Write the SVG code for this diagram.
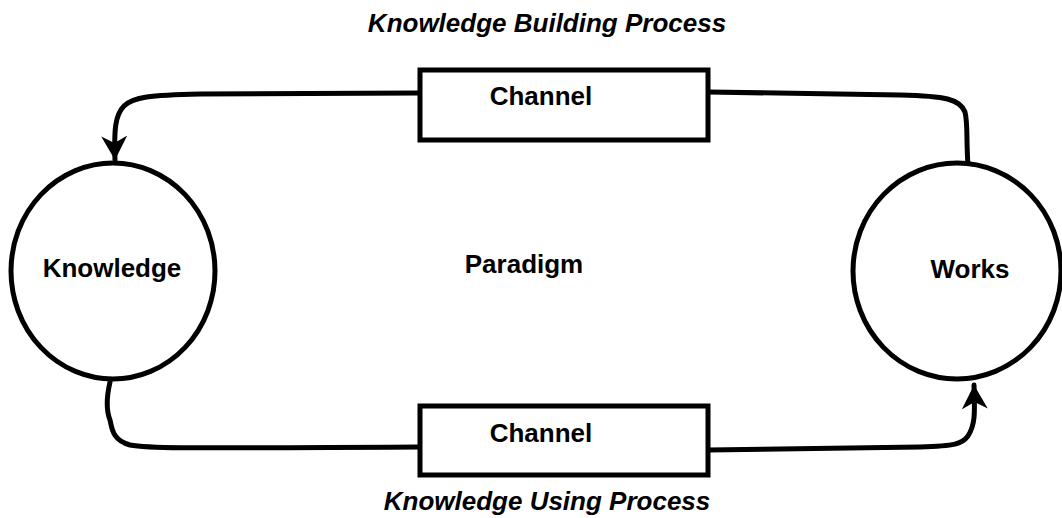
<svg xmlns="http://www.w3.org/2000/svg" width="1062" height="518" viewBox="0 0 1062 518">
<style>
text{font-family:"Liberation Sans",Arial,sans-serif;font-weight:bold;font-size:26px;fill:#000;text-anchor:middle}
.it{font-style:italic}
.shape{fill:#fff;stroke:#000;stroke-width:5}
.conn{fill:none;stroke:#000;stroke-width:5;stroke-linecap:round;stroke-linejoin:round}
</style>
<defs>
<marker id="arr" markerWidth="30" markerHeight="30" refX="24" refY="13" orient="auto" markerUnits="userSpaceOnUse" viewBox="0 0 30 26">
<path d="M0,0 L24,13 L0,26 L7,13 Z" fill="#000"/>
</marker>
</defs>
<rect width="1062" height="518" fill="#fff"/>
<text class="it" x="547" y="32">Knowledge Building Process</text>
<text class="it" x="547" y="510">Knowledge Using Process</text>
<g id="connectors">
<path class="conn" d="M418,93 L200,94 C150,95 133,97 124,106 C115,115 114,130 115,160" marker-end="url(#arr)"/>
<path class="conn" d="M708,92 L900,95 C945,96 960,99 965,112 C968,125 966,135 968,166"/>
<path class="conn" d="M110,382 C107,395 106,410 110,420 C112,428 112,440 130,445 C150,449 200,448 418,447"/>
<path class="conn" d="M708,450 L920,447 C955,446 962,444 968,436 C975,425 975,415 974,385" marker-end="url(#arr)"/>
</g>
<g id="knowledge">
<ellipse class="shape" cx="113" cy="271" rx="102" ry="108"/>
<text x="112" y="277">Knowledge</text>
</g>
<g id="works">
<ellipse class="shape" cx="957" cy="271" rx="104" ry="108"/>
<text x="970" y="278">Works</text>
</g>
<g id="channel-top">
<rect class="shape" x="420" y="70" width="288" height="70"/>
<text x="541" y="105">Channel</text>
</g>
<g id="channel-bottom">
<rect class="shape" x="420" y="406" width="288" height="69"/>
<text x="541" y="442">Channel</text>
</g>
<g id="paradigm">
<text x="524" y="273">Paradigm</text>
</g>
</svg>
